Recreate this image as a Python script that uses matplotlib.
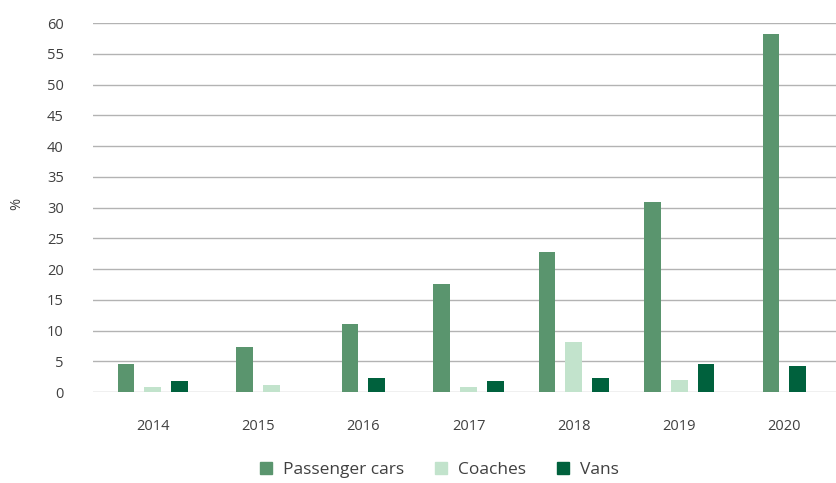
import numpy as np
import matplotlib
matplotlib.use("Agg")
import matplotlib.pyplot as plt

years = ["2014", "2015", "2016", "2017", "2018", "2019", "2020"]
passenger_cars = [4.6, 7.3, 11.1, 17.6, 22.8, 30.9, 58.2]
coaches = [0.8, 1.1, None, 0.8, 8.1, 1.95, None]
vans = [1.8, None, 2.3, 1.8, 2.3, 4.55, 4.2]

series = [
    ("Passenger cars", passenger_cars, "#5a956e"),
    ("Coaches", coaches, "#c2e3cc"),
    ("Vans", vans, "#00613d"),
]

plt.rcParams["font.family"] = ["Open Sans", "DejaVu Sans"]
text_color = "#404040"

fig = plt.figure(figsize=(8.37, 4.83), dpi=100)
ax = fig.add_axes([0.111, 0.188, 0.889, 0.764])

width = 0.16
pitch = 0.255

# bars present in each year are centred on the category
for i in range(len(years)):
    present = [(name, vals[i], col) for name, vals, col in series if vals[i] is not None]
    n = len(present)
    for j, (name, v, col) in enumerate(present):
        x = i + (j - (n - 1) / 2) * pitch
        ax.bar(x, v, width=width, color=col, zorder=3)

handles = [plt.Rectangle((0, 0), 1, 1, color=col) for _, _, col in series]
labels = [name for name, _, _ in series]

ax.set_xticks(range(len(years)))
ax.set_xticklabels(years)
ax.set_xlim(-0.57, 6.5)
ax.set_ylim(0, 60)
ax.set_yticks(np.arange(0, 61, 5))
ax.yaxis.grid(True, color="#b3b3b3", linewidth=1, zorder=0)
ax.tick_params(axis="both", length=0, labelsize=10.5, colors=text_color)
ax.tick_params(axis="x", pad=19.5)
ax.tick_params(axis="y", pad=21)
for s in ax.spines.values():
    s.set_visible(False)
ax.set_ylabel("%", color=text_color, fontsize=10.5)
ax.yaxis.set_label_coords(-0.092, 0.51)

fig.legend(handles, labels, loc="center", bbox_to_anchor=(0.525, 0.027), ncol=3,
           frameon=False, fontsize=12.5, handlelength=0.7, handleheight=0.7,
           columnspacing=1.8, handletextpad=0.6, labelcolor=text_color)

fig.savefig("out.png", dpi=100)
